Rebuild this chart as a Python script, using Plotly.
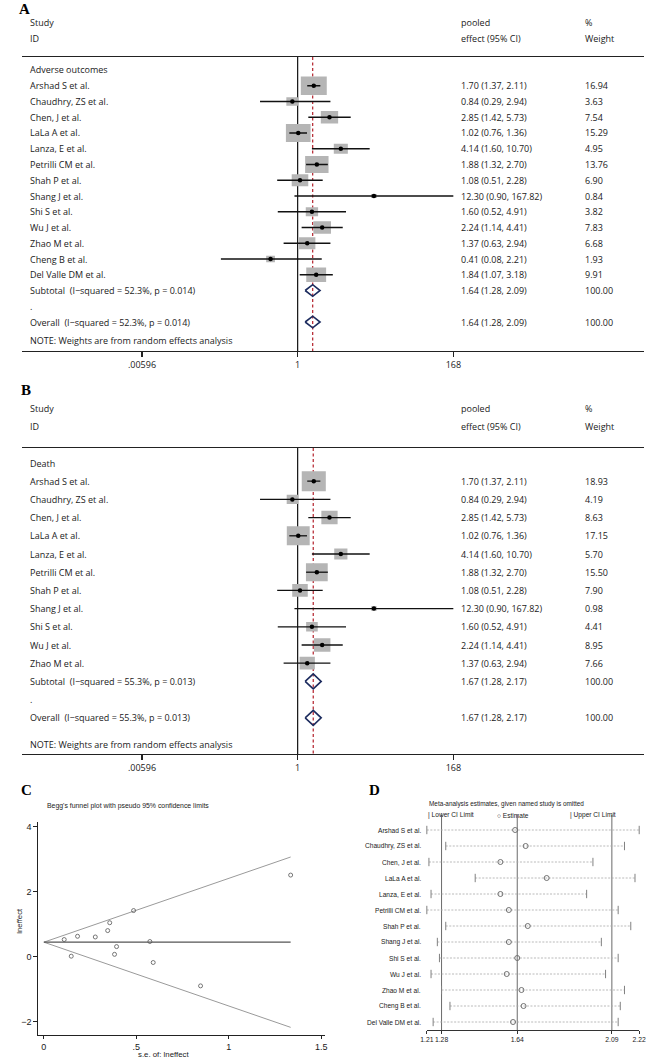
import math
import plotly.graph_objects as go

W, H = 655, 1058

# ---------------- data ----------------
studies = ["Arshad S et al.", "Chaudhry, ZS et al.", "Chen, J et al.", "LaLa A et al.",
           "Lanza, E et al.", "Petrilli CM et al.", "Shah P et al.", "Shang J et al.",
           "Shi S et al.", "Wu J et al.", "Zhao M et al.", "Cheng B et al.", "Del Valle DM et al."]

# Panel A: adverse outcomes
a_est = [1.70, 0.84, 2.85, 1.02, 4.14, 1.88, 1.08, 12.30, 1.60, 2.24, 1.37, 0.41, 1.84]
a_lcl = [1.37, 0.29, 1.42, 0.76, 1.60, 1.32, 0.51, 0.90, 0.52, 1.14, 0.63, 0.08, 1.07]
a_ucl = [2.11, 2.94, 5.73, 1.36, 10.70, 2.70, 2.28, 167.82, 4.91, 4.41, 2.94, 2.21, 3.18]
a_wt = [16.94, 3.63, 7.54, 15.29, 4.95, 13.76, 6.90, 0.84, 3.82, 7.83, 6.68, 1.93, 9.91]
a_pooled = [1.64, 1.28, 2.09]
a_group = "Adverse outcomes"
a_het = "(I\u2212squared = 52.3%, p = 0.014)"

# Panel B: death
b_studies = studies[:11]
b_est = [1.70, 0.84, 2.85, 1.02, 4.14, 1.88, 1.08, 12.30, 1.60, 2.24, 1.37]
b_lcl = [1.37, 0.29, 1.42, 0.76, 1.60, 1.32, 0.51, 0.90, 0.52, 1.14, 0.63]
b_ucl = [2.11, 2.94, 5.73, 1.36, 10.70, 2.70, 2.28, 167.82, 4.91, 4.41, 2.94]
b_wt = [18.93, 4.19, 8.63, 17.15, 5.70, 15.50, 7.90, 0.98, 4.41, 8.95, 7.66]
b_pooled = [1.67, 1.28, 2.17]
b_group = "Death"
b_het = "(I\u2212squared = 55.3%, p = 0.013)"

forest_tickvals = [0.00596, 1, 168]
forest_ticktext = [".00596", "1", "168"]

# Panel C: Begg's funnel
funnel_se = [0.110, 0.591, 0.356, 0.148, 0.485, 0.182, 0.382, 1.334, 0.573, 0.345, 0.393, 0.847, 0.278]
funnel_lneffect = [0.531, -0.174, 1.047, 0.020, 1.421, 0.631, 0.077, 2.510, 0.470, 0.806, 0.315, -0.892, 0.610]
funnel_line_se = [0, 1.334]
funnel_center = [0.45, 0.45]
funnel_upper = [0.45, 3.065]
funnel_lower = [0.45, -2.165]
funnel_xticks = [0, 0.5, 1, 1.5]
funnel_xticktext = ["0", ".5", "1", "1.5"]
funnel_yticks = [-2, 0, 2, 4]

# Panel D: leave-one-out
loo_lower = [1.21, 1.30, 1.22, 1.44, 1.23, 1.21, 1.30, 1.26, 1.27, 1.23, 1.28, 1.32, 1.24]
loo_est = [1.63, 1.68, 1.56, 1.78, 1.56, 1.60, 1.69, 1.60, 1.64, 1.59, 1.66, 1.67, 1.62]
loo_upper = [2.22, 2.15, 2.00, 2.20, 1.97, 2.12, 2.18, 2.04, 2.12, 2.06, 2.15, 2.13, 2.12]
loo_refs = [1.28, 1.64, 2.09]
loo_ticks = [1.21, 1.28, 1.64, 2.09, 2.22]

# ---------------- style ----------------
SANS = "Open Sans"
NARROW = "Liberation Sans Narrow, Arial Narrow, Liberation Sans, Arial, sans-serif"
SERIF = "Liberation Serif, Times New Roman, serif"
TXT = "#1a1a1a"

fig = go.Figure()
ann = []


def px2x(p):
    return p / W


def px2y(p):
    return 1 - p / H


def text(xpx, ypx, s, size=9, family=SANS, xanchor="left", color=TXT, **kw):
    ann.append(dict(x=px2x(xpx), xref="paper", y=px2y(ypx), yref="paper", text=s, showarrow=False,
                    xanchor=xanchor, yanchor="middle", borderpad=0,
                    font=dict(family=family, size=size, color=color), **kw))


# panel letters
for letter, lx, ly in [("A", 18, 9), ("B", 19, 390), ("C", 20, 790), ("D", 376, 790)]:
    text(lx, ly, "<b>%s</b>" % letter, size=15, family=SERIF, xanchor="center", color="#000")

# ---------------- forest panels ----------------
X_LEFT, X_RIGHT = 15, 651
LOG_L, LOG_R = -3.944, 4.951
PPD = (X_RIGHT - X_LEFT) / (LOG_R - LOG_L)
COL_NAME, COL_EFF, COL_WT = 22, 463, 590

panels = [
    dict(xa="x", ya="y", names=studies, est=a_est, lcl=a_lcl, ucl=a_ucl, wt=a_wt, pooled=a_pooled,
         group=a_group, het=a_het, row0=70, step=15.75, top=57, axis=351, note=17.2,
         wscale=6.45, hscale=4.55, dia=5.8),
    dict(xa="x2", ya="y2", names=b_studies, est=b_est, lcl=b_lcl, ucl=b_ucl, wt=b_wt, pooled=b_pooled,
         group=b_group, het=b_het, row0=463, step=18.2, top=448, axis=754, note=15.45,
         wscale=5.65, hscale=4.59, dia=7.5),
]

layout_axes = {}
for k, p in enumerate(panels):
    n = len(p["names"])
    step = p["step"]
    row0 = p["row0"]
    top_idx = (p["top"] - row0) / step
    bot_idx = (p["axis"] - row0) / step
    xa, ya = p["xa"], p["ya"]
    pest, plcl, pucl = p["pooled"]

    def rowpx(r):
        return row0 + r * step

    # null line and pooled (red dashed) line
    fig.add_trace(go.Scatter(x=[1, 1], y=[top_idx, bot_idx], mode="lines", xaxis=xa, yaxis=ya,
                             line=dict(color="#111", width=1.2), hoverinfo="skip"))
    fig.add_trace(go.Scatter(x=[pest, pest], y=[top_idx, bot_idx], mode="lines", xaxis=xa, yaxis=ya,
                             line=dict(color="#b3202a", width=1.2, dash="3px,2.5px"), hoverinfo="skip"))

    # weight boxes
    bx, by = [], []
    for i, (e, w) in enumerate(zip(p["est"], p["wt"])):
        r = i + 1
        hw = p["wscale"] * math.sqrt(w) / 2 / PPD
        hh = p["hscale"] * math.sqrt(w) / 2 / step
        x0, x1 = e * 10 ** (-hw), e * 10 ** hw
        bx += [x0, x1, x1, x0, x0, None]
        by += [r - hh, r - hh, r + hh, r + hh, r - hh, None]
    fig.add_trace(go.Scatter(x=bx, y=by, mode="lines", fill="toself", fillcolor="#b5b5b5",
                             line=dict(width=0, color="rgba(0,0,0,0)"), xaxis=xa, yaxis=ya, hoverinfo="skip"))

    # CI lines
    cx, cy = [], []
    for i, (l, u) in enumerate(zip(p["lcl"], p["ucl"])):
        cx += [l, u, None]
        cy += [i + 1, i + 1, None]
    fig.add_trace(go.Scatter(x=cx, y=cy, mode="lines", line=dict(color="#111", width=1.3),
                             xaxis=xa, yaxis=ya, hoverinfo="skip"))
    # point estimates
    fig.add_trace(go.Scatter(x=p["est"], y=list(range(1, n + 1)), mode="markers",
                             marker=dict(color="#000", size=4.5, symbol="circle"),
                             xaxis=xa, yaxis=ya, hoverinfo="skip"))
    # diamonds (subtotal, overall)
    dh = p["dia"] / step
    dx, dy = [], []
    for r in (n + 1, n + 3):
        dx += [plcl, pest, pucl, pest, plcl, None]
        dy += [r, r - dh, r, r + dh, r, None]
    fig.add_trace(go.Scatter(x=dx, y=dy, mode="lines", line=dict(color="#1c2b5e", width=1.6),
                             xaxis=xa, yaxis=ya, hoverinfo="skip"))

    # texts
    text(COL_NAME, rowpx(-3), "Study")
    text(COL_NAME, rowpx(-2), "ID")
    text(COL_EFF, rowpx(-3), "pooled")
    text(COL_EFF, rowpx(-2), "effect (95% CI)")
    text(COL_WT, rowpx(-3), "%")
    text(COL_WT, rowpx(-2), "Weight")
    text(COL_NAME, rowpx(0), p["group"])
    for i, nm in enumerate(p["names"]):
        r = i + 1
        text(COL_NAME, rowpx(r), nm)
        text(COL_EFF, rowpx(r), "%.2f (%.2f, %.2f)" % (p["est"][i], p["lcl"][i], p["ucl"][i]))
        text(COL_WT, rowpx(r), "%.2f" % p["wt"][i])
    pooled_txt = "%.2f (%.2f, %.2f)" % (pest, plcl, pucl)
    text(COL_NAME, rowpx(n + 1), "Subtotal  " + p["het"])
    text(COL_EFF, rowpx(n + 1), pooled_txt)
    text(COL_WT, rowpx(n + 1), "100.00")
    text(COL_NAME, rowpx(n + 2), ".")
    text(COL_NAME, rowpx(n + 3), "Overall  " + p["het"])
    text(COL_EFF, rowpx(n + 3), pooled_txt)
    text(COL_WT, rowpx(n + 3), "100.00")
    text(COL_NAME, rowpx(p["note"]), "NOTE: Weights are from random effects analysis")

    xkey = "xaxis" if xa == "x" else "xaxis" + xa[1:]
    ykey = "yaxis" if ya == "y" else "yaxis" + ya[1:]
    layout_axes[xkey] = dict(domain=[px2x(X_LEFT), px2x(X_RIGHT)], type="log", range=[LOG_L, LOG_R],
                             anchor=ya, showline=True, mirror=True, linecolor="#222", linewidth=1.1,
                             ticks="outside", ticklen=5, tickwidth=1.2, tickcolor="#222",
                             tickvals=forest_tickvals, ticktext=forest_ticktext, tickangle=0,
                             tickfont=dict(family=SANS, size=9, color=TXT),
                             showgrid=False, zeroline=False, fixedrange=True)
    layout_axes[ykey] = dict(domain=[px2y(p["axis"]), px2y(p["top"])], range=[bot_idx, top_idx],
                             anchor=xa, visible=False, showgrid=False, zeroline=False, fixedrange=True)

# ---------------- panel C: funnel ----------------
C_L, C_R, C_B, C_T = 32, 325, 1035, 822
c_xr = [-0.030, 1.520]
c_yr = [-2.40, 4.14]
fig.add_trace(go.Scatter(x=funnel_line_se, y=funnel_upper, mode="lines", line=dict(color="#9a9a9a", width=1),
                         xaxis="x3", yaxis="y3", hoverinfo="skip"))
fig.add_trace(go.Scatter(x=funnel_line_se, y=funnel_lower, mode="lines", line=dict(color="#9a9a9a", width=1),
                         xaxis="x3", yaxis="y3", hoverinfo="skip"))
fig.add_trace(go.Scatter(x=funnel_line_se, y=funnel_center, mode="lines", line=dict(color="#555", width=1.2),
                         xaxis="x3", yaxis="y3", hoverinfo="skip"))
fig.add_trace(go.Scatter(x=funnel_se, y=funnel_lneffect, mode="markers",
                         marker=dict(symbol="circle-open", size=4, color="#555", line=dict(width=0.8, color="#555")),
                         xaxis="x3", yaxis="y3", hoverinfo="skip"))
layout_axes["xaxis3"] = dict(domain=[px2x(C_L), px2x(C_R)], range=c_xr, anchor="y3", showline=True,
                             linecolor="#222", linewidth=1, ticks="outside", ticklen=3, tickcolor="#222",
                             tickvals=funnel_xticks, ticktext=funnel_xticktext, tickangle=0,
                             tickfont=dict(family=NARROW, size=9, color=TXT),
                             showgrid=False, zeroline=False, fixedrange=True)
layout_axes["yaxis3"] = dict(domain=[px2y(C_B), px2y(C_T)], range=c_yr, anchor="x3", showline=True,
                             linecolor="#222", linewidth=1, ticks="outside", ticklen=4, tickcolor="#222",
                             tickvals=funnel_yticks, tickfont=dict(family=NARROW, size=9, color=TXT),
                             showgrid=False, zeroline=False, fixedrange=True)
text(40, 806, "Begg's funnel plot with pseudo 95% confidence limits", size=6.9, family=NARROW)
text(160, 1054, "s.e. of: lneffect", size=7.8, family=NARROW, xanchor="center")
ann.append(dict(x=px2x(12), xref="paper", y=px2y(921), yref="paper", text="lneffect", showarrow=False,
                textangle=-90, xanchor="center", yanchor="middle",
                font=dict(family=NARROW, size=7.8, color=TXT)))

# ---------------- panel D: leave-one-out ----------------
D_L, D_R, D_B, D_T = 429, 646, 1030, 815
D_ROW0, D_STEP = 830, 16
d_top = (D_T - D_ROW0) / D_STEP
d_bot = (D_B - D_ROW0) / D_STEP
nD = len(studies)
rx, ry = [], []
for r in loo_refs:
    rx += [r, r, None]
    ry += [d_top, d_bot, None]
fig.add_trace(go.Scatter(x=rx, y=ry, mode="lines", line=dict(color="#6a6a6a", width=1),
                         xaxis="x4", yaxis="y4", hoverinfo="skip"))
lx, ly = [], []
for i in range(nD):
    lx += [loo_lower[i], loo_upper[i], None]
    ly += [i, i, None]
fig.add_trace(go.Scatter(x=lx, y=ly, mode="lines", line=dict(color="#a8a8a8", width=0.8, dash="2px,1.5px"),
                         xaxis="x4", yaxis="y4", hoverinfo="skip", cliponaxis=False))
fig.add_trace(go.Scatter(x=loo_lower + loo_upper, y=list(range(nD)) * 2, mode="markers",
                         marker=dict(symbol="line-ns", size=6, line=dict(width=1, color="#808080")),
                         xaxis="x4", yaxis="y4", hoverinfo="skip", cliponaxis=False))
fig.add_trace(go.Scatter(x=loo_est, y=list(range(nD)), mode="markers",
                         marker=dict(symbol="circle-open", size=5, color="#707070", line=dict(width=1, color="#707070")),
                         xaxis="x4", yaxis="y4", hoverinfo="skip", cliponaxis=False))
layout_axes["xaxis4"] = dict(domain=[px2x(D_L), px2x(D_R)], range=[loo_ticks[0], loo_ticks[-1]], anchor="y4",
                             showline=True, linecolor="#333", linewidth=1, ticks="outside", ticklen=3,
                             tickcolor="#333", tickvals=loo_ticks, ticktext=["%.2f" % t for t in loo_ticks],
                             tickangle=0, tickfont=dict(family=NARROW, size=6.8, color=TXT),
                             showgrid=False, zeroline=False, fixedrange=True)
layout_axes["yaxis4"] = dict(domain=[px2y(D_B), px2y(D_T)], range=[d_bot, d_top], anchor="x4", visible=False,
                             showgrid=False, zeroline=False, fixedrange=True)
for i, nm in enumerate(studies):
    text(424, D_ROW0 + i * D_STEP, nm, size=6.6, family=NARROW, xanchor="right")
text(430, 804, "Meta-analysis estimates, given named study is omitted", size=6.4, family=NARROW)
text(429, 815, "| Lower CI Limit", size=6.6, family=NARROW)
text(500, 815, "\u25cb Estimate", size=6.6, family=NARROW)
text(574, 815, "| Upper CI Limit", size=6.6, family=NARROW)

fig.update_layout(width=W, height=H, margin=dict(l=0, r=0, t=0, b=0), paper_bgcolor="white",
                  plot_bgcolor="white", showlegend=False, annotations=ann, **layout_axes)
fig.write_html("out.html", config=dict(displayModeBar=False, staticPlot=True),
               post_script="document.body.style.margin='0';document.body.style.padding='0';"
                           "document.body.style.overflow='hidden';")
